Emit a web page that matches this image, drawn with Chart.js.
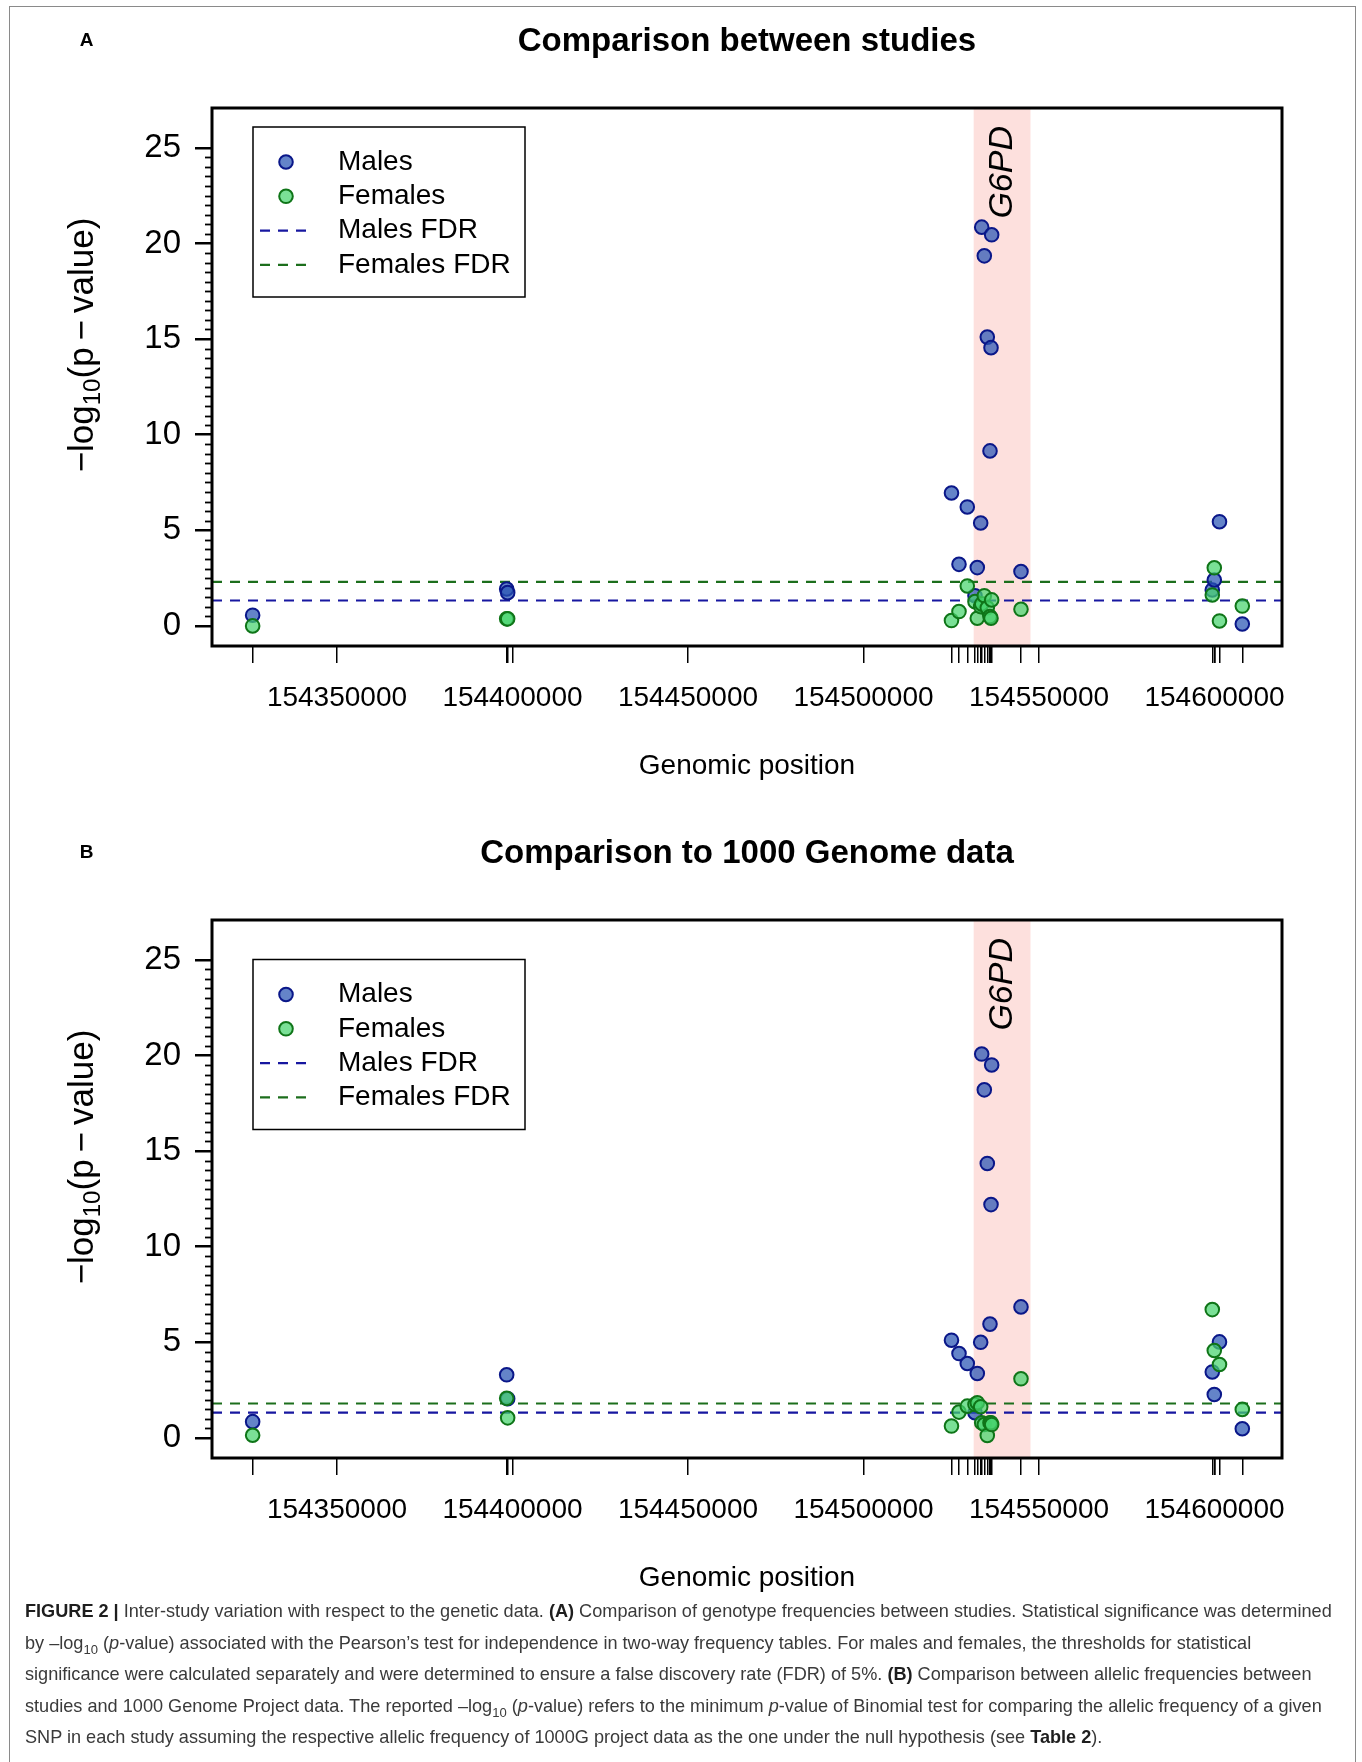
<!DOCTYPE html>
<html>

<head>
    <title>Figure 2 - inter-study variation</title>
    <meta charset="utf-8">
    <script src="https://cdn.jsdelivr.net/npm/chart.js"></script>
    <style>
        body { margin: 0; background: #fff; width: 1362px; height: 1762px; position: relative; overflow: hidden;
               font-family: "Liberation Sans", Arial, Helvetica, sans-serif; }
        #frame { position: absolute; left: 9px; top: 6px; width: 1345px; height: 1780px; border: 1.5px solid #8a8a8a; }
        .panel { position: absolute; left: 0; width: 1362px; height: 800px; }
        #caption { position: absolute; left: 25px; top: 1596px; font-size: 16.5px; line-height: 31.5px;
                   color: #3a3a3a; white-space: nowrap; }
        #caption b { color: #1e1e1e; }
        #caption sub { font-size: 0.72em; vertical-align: -0.35em; line-height: 0; }
    </style>
</head>

<body>
    <div id="frame"></div>
    <div class="panel" style="top:0px"><canvas id="chartA" width="1362" height="800"></canvas></div>
    <div class="panel" style="top:812px"><canvas id="chartB" width="1362" height="800"></canvas></div>

    <div id="caption">
        <div id="capLine1"><b>FIGURE 2 |</b> Inter-study variation with respect to the genetic data. <b>(A)</b> Comparison of genotype frequencies between studies. Statistical significance was determined</div>
        <div>by –log<sub>10</sub> (<i>p</i>-value) associated with the Pearson’s test for independence in two-way frequency tables. For males and females, the thresholds for statistical</div>
        <div>significance were calculated separately and were determined to ensure a false discovery rate (FDR) of 5%. <b>(B)</b> Comparison between allelic frequencies between</div>
        <div>studies and 1000 Genome Project data. The reported –log<sub>10</sub> (<i>p</i>-value) refers to the minimum <i>p</i>-value of Binomial test for comparing the allelic frequency of a given</div>
        <div>SNP in each study assuming the respective allelic frequency of 1000G project data as the one under the null hypothesis (see <b>Table 2</b>).</div>
    </div>

    <script>
        // SNP positions (chrX), shared by both panels
        const snpPositions = [154325980, 154398350, 154398630,
            154525070, 154527210, 154529570, 154531770, 154532420, 154533390, 154533680,
            154534420, 154535270, 154536040, 154536330, 154536520, 154544870,
            154599370, 154599940, 154601420, 154607920];

        // -log10(p) : panel A, comparison between studies
        const malesA = [0.56, 1.93, 1.74,
            6.95, 3.22, 6.22, 1.58, 3.05, 5.38, 20.85,
            19.35, 15.1, 9.15, 14.55, 20.45, 2.84,
            1.88, 2.4, 5.45, 0.1];
        const femalesA = [0.0, 0.37, 0.37,
            0.28, 0.75, 2.09, 1.27, 0.4, 1.01, 1.15,
            1.58, 0.95, 0.49, 0.4, 1.36, 0.87,
            1.62, 3.04, 0.26, 1.04];

        // -log10(p) : panel B, comparison to 1000 Genome data
        const malesB = [0.85, 3.3, 2.05,
            5.11, 4.41, 3.89, 1.32, 3.37, 5.0, 20.07,
            18.2, 14.35, 5.95, 12.2, 19.5, 6.85,
            3.45, 2.27, 5.02, 0.48];
        const femalesB = [0.14, 2.07, 1.05,
            0.62, 1.35, 1.66, 1.75, 1.84, 1.63, 0.79,
            0.7, 0.13, 0.79, 0.79, 0.7, 3.09,
            6.71, 4.57, 3.84, 1.49];

        const fdrMalesA = 1.33, fdrFemalesA = 2.3;
        const fdrMalesB = 1.32, fdrFemalesB = 1.8;

        const xTickValues = [154350000, 154400000, 154450000, 154500000, 154550000, 154600000];
        const yTickValues = [0, 5, 10, 15, 20, 25];
        const xRange = [154314400, 154619230];
        const yRange = [-1.05, 27.08];
        const g6pdRange = [154531390, 154547572];
        const geneLabel = "G6PD";

        const FONT = '"Liberation Sans", Arial, Helvetica, sans-serif';
        const maleFill = "rgba(40, 85, 180, 0.72)", maleEdge = "#0a1789";
        const femaleFill = "rgba(70, 212, 110, 0.72)", femaleEdge = "#0f7518";
        const maleLine = "#1717a0", femaleLine = "#1c6e1c";

        // fit caption font so the first line spans the same width as the figure caption
        (function () {
            const cap = document.getElementById("caption");
            const w = document.getElementById("capLine1").scrollWidth;
            cap.style.fontSize = (16.5 * 1308 / w).toFixed(2) + "px";
        })();

        function deco(letter, title, legendTop) {
            return {
                id: "deco" + letter,
                beforeDatasetsDraw(chart) {
                    const { ctx, chartArea: a, scales: { x } } = chart;
                    const x0 = x.getPixelForValue(g6pdRange[0]);
                    const x1 = x.getPixelForValue(g6pdRange[1]);
                    ctx.save();
                    ctx.fillStyle = "#fde0dd";
                    ctx.fillRect(x0, a.top, x1 - x0, a.bottom - a.top);
                    ctx.translate((x0 + x1) / 2, a.top + 18);
                    ctx.rotate(-Math.PI / 2);
                    ctx.font = "italic 34px " + FONT;
                    ctx.fillStyle = "#000";
                    ctx.textAlign = "right";
                    ctx.textBaseline = "middle";
                    ctx.fillText(geneLabel, 0, 0);
                    ctx.restore();
                },
                afterDraw(chart) {
                    const { ctx, chartArea: a, scales: { y } } = chart;
                    const ds = chart.data.datasets;
                    ctx.save();

                    // minor ticks on y
                    ctx.strokeStyle = "#000";
                    ctx.lineWidth = 1.8;
                    for (let v = 0.5; v < 25; v += 0.5) {
                        if (v % 5 === 0) continue;
                        const py = Math.round(y.getPixelForValue(v)) + 0.5;
                        ctx.beginPath();
                        ctx.moveTo(a.left - 7, py);
                        ctx.lineTo(a.left, py);
                        ctx.stroke();
                    }

                    // plot box
                    ctx.lineWidth = 3;
                    ctx.strokeRect(a.left, a.top, a.right - a.left, a.bottom - a.top);

                    // main title
                    ctx.fillStyle = "#000";
                    ctx.font = "bold 33px " + FONT;
                    ctx.textAlign = "center";
                    ctx.textBaseline = "middle";
                    ctx.fillText(title, (a.left + a.right) / 2, a.top - 66);

                    // panel letter
                    ctx.font = "bold 19px " + FONT;
                    ctx.fillText(letter, 86.5, a.top - 67);

                    // y title with subscript
                    ctx.save();
                    ctx.translate(81, (a.top + a.bottom) / 2 - 32);
                    ctx.rotate(-Math.PI / 2);
                    ctx.textAlign = "left";
                    ctx.textBaseline = "alphabetic";
                    const big = "35px " + FONT, small = "24px " + FONT;
                    const p1 = "\u2212log", p3 = "(p\u2009\u2212\u2009value)";
                    ctx.font = big;
                    const w1 = ctx.measureText(p1).width;
                    const w3 = ctx.measureText(p3).width;
                    ctx.font = small;
                    const w2 = ctx.measureText("10").width;
                    const sx = -(w1 + w2 + w3) / 2;
                    ctx.font = big;
                    ctx.fillText(p1, sx, 12);
                    ctx.font = small;
                    ctx.fillText("10", sx + w1, 19);
                    ctx.font = big;
                    ctx.fillText(p3, sx + w1 + w2, 12);
                    ctx.restore();

                    // legend
                    const lx = a.left + 41, ly = a.top + legendTop;
                    ctx.fillStyle = "#fff";
                    ctx.fillRect(lx, ly, 272, 170);
                    ctx.lineWidth = 1.5;
                    ctx.strokeStyle = "#000";
                    ctx.strokeRect(lx, ly, 272, 170);
                    ds.forEach((d, i) => {
                        const ry = ly + 35 + i * 34.3;
                        if (d.type === "line") {
                            ctx.save();
                            ctx.strokeStyle = d.borderColor;
                            ctx.lineWidth = d.borderWidth;
                            ctx.setLineDash(d.borderDash);
                            ctx.beginPath();
                            ctx.moveTo(lx + 7, ry);
                            ctx.lineTo(lx + 61, ry);
                            ctx.stroke();
                            ctx.restore();
                        } else {
                            ctx.beginPath();
                            ctx.arc(lx + 33, ry, d.pointRadius, 0, Math.PI * 2);
                            ctx.fillStyle = d.backgroundColor;
                            ctx.fill();
                            ctx.lineWidth = d.borderWidth;
                            ctx.strokeStyle = d.borderColor;
                            ctx.stroke();
                        }
                        ctx.fillStyle = "#000";
                        ctx.font = "28px " + FONT;
                        ctx.textAlign = "left";
                        ctx.textBaseline = "middle";
                        ctx.fillText(d.label, lx + 85, ry);
                    });
                    ctx.restore();
                }
            };
        }

        function makePanel(id, title, letter, legendTop, males, females, fdrMales, fdrFemales) {
            const pts = vals => snpPositions.map((p, i) => ({ x: p, y: vals[i] }));
            const flat = v => [{ x: xRange[0], y: v }, { x: xRange[1], y: v }];
            const tickFont = { family: FONT, size: 28 };

            return new Chart(document.getElementById(id), {
                type: "scatter",
                data: {
                    datasets: [{
                        label: "Males",
                        data: pts(males),
                        backgroundColor: maleFill,
                        borderColor: maleEdge,
                        borderWidth: 2,
                        pointRadius: 6.8,
                        order: 1
                    }, {
                        label: "Females",
                        data: pts(females),
                        backgroundColor: femaleFill,
                        borderColor: femaleEdge,
                        borderWidth: 2,
                        pointRadius: 6.8,
                        order: 0
                    }, {
                        type: "line",
                        label: "Males FDR",
                        data: flat(fdrMales),
                        borderColor: maleLine,
                        borderWidth: 2.2,
                        borderDash: [10, 8],
                        pointRadius: 0,
                        order: 2
                    }, {
                        type: "line",
                        label: "Females FDR",
                        data: flat(fdrFemales),
                        borderColor: femaleLine,
                        borderWidth: 2.2,
                        borderDash: [10, 8],
                        pointRadius: 0,
                        order: 3
                    }]
                },
                options: {
                    responsive: false,
                    animation: false,
                    layout: { padding: { left: 0, right: 80, top: 108, bottom: 0 } },
                    plugins: {
                        legend: { display: false },
                        tooltip: { enabled: false },
                        title: { display: false }
                    },
                    scales: {
                        x: {
                            type: "linear",
                            min: xRange[0],
                            max: xRange[1],
                            afterBuildTicks: s => {
                                s.ticks = xTickValues.concat(snpPositions).sort((p, q) => p - q).map(v => ({ value: v }));
                            },
                            afterFit: s => { s.height = 154; },
                            border: { display: false },
                            grid: { drawOnChartArea: false, drawTicks: true, tickLength: 17, color: "#000", lineWidth: 1.5 },
                            ticks: {
                                autoSkip: false, maxRotation: 0, minRotation: 0, padding: 18,
                                color: "#000", font: tickFont,
                                callback: v => xTickValues.includes(v) ? String(v) : ""
                            },
                            title: {
                                display: true, text: "Genomic position", color: "#000",
                                font: tickFont, padding: { top: 0, bottom: 16.7 }
                            }
                        },
                        y: {
                            type: "linear",
                            min: yRange[0],
                            max: yRange[1],
                            afterBuildTicks: s => { s.ticks = yTickValues.map(v => ({ value: v })); },
                            afterFit: s => { s.width = 212; },
                            border: { display: false },
                            grid: { drawOnChartArea: false, drawTicks: true, tickLength: 17, color: "#000", lineWidth: 2.5 },
                            ticks: { padding: 14, color: "#000", font: { family: FONT, size: 33 } }
                        }
                    }
                },
                plugins: [deco(letter, title, legendTop)]
            });
        }

        makePanel("chartA", "Comparison between studies", "A", 19, malesA, femalesA, fdrMalesA, fdrFemalesA);
        makePanel("chartB", "Comparison to 1000 Genome data", "B", 39.5, malesB, femalesB, fdrMalesB, fdrFemalesB);
    </script>
</body>

</html>
